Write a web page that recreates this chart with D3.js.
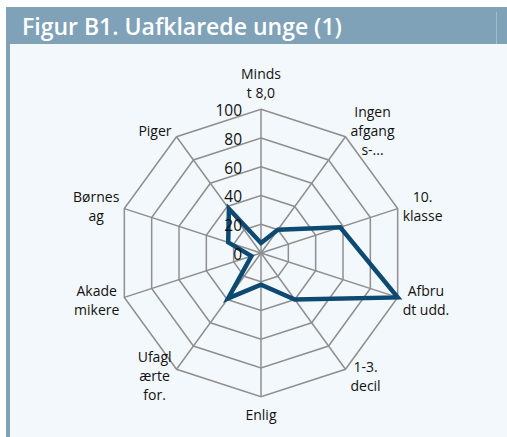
<!DOCTYPE html>
<html>
<head>
<meta charset="utf-8">
<script src="https://cdn.jsdelivr.net/npm/d3@7"></script>
<style>
  html, body { margin: 0; padding: 0; background: #ffffff; }
  svg { display: block; }
  text { font-family: "Open Sans", "Noto Sans", sans-serif; }
</style>
</head>
<body>
<svg id="chart" width="507" height="437"></svg>
<script>
// Categories (clockwise from the top) and their wrapped label lines
const categories = ["Mindst 8,0", "Ingen afgangs-...", "10. klasse", "Afbrudt udd.", "1-3. decil",
                    "Enlig", "Ufaglærte for.", "Akademikere", "Børnesag", "Piger"];
const labelLines = [["Minds", "t 8,0"], ["Ingen", "afgang", "s-..."], ["10.", "klasse"], ["Afbru", "dt udd."],
                    ["1-3.", "decil"], ["Enlig"], ["Ufagl", "ærte", "for."], ["Akade", "mikere"],
                    ["Børnes", "ag"], ["Piger"]];
const values = [7, 20, 58, 100, 40, 22, 39, 7, 24, 38];
const tickValues = [0, 20, 40, 60, 80, 100];
const titleText = "Figur B1. Uafklarede unge (1)";

const svg = d3.select("#chart");
const W = 507, H = 437;

// Frame: light panel, title bar and left rule
svg.append("rect").attr("x", 10).attr("y", 44).attr("width", W - 10).attr("height", H - 44).attr("fill", "#f3f8fc");
svg.append("rect").attr("x", 6).attr("y", 7).attr("width", W - 6).attr("height", 37).attr("fill", "#7fa2b8");
svg.append("rect").attr("x", 6).attr("y", 44).attr("width", 4).attr("height", H - 44).attr("fill", "#7fa2b8");
svg.append("line").attr("x1", 496.5).attr("x2", 496.5).attr("y1", 12).attr("y2", 44)
  .attr("stroke", "#a3bccb").attr("stroke-width", 1);
svg.append("text").attr("x", 22).attr("y", 35).attr("fill", "#ffffff")
  .attr("font-size", 23).attr("font-weight", 600).text(titleText);

// Radar geometry
const cx = 261, cy = 253, R = 143.7;
const r = d3.scaleLinear().domain([0, 100]).range([0, R]);
const angle = d3.scalePoint().domain(categories).range([0, 2 * Math.PI * (categories.length - 1) / categories.length]);
const pt = (cat, v) => {
  const a = angle(cat);
  return [cx + r(v) * Math.sin(a), cy - r(v) * Math.cos(a)];
};

const g = svg.append("g");

// Decagon rings
const ring = d3.line().curve(d3.curveLinearClosed);
tickValues.filter(t => t > 0).forEach(t => {
  g.append("path").attr("d", ring(categories.map(c => pt(c, t))))
    .attr("fill", "none").attr("stroke", "#8f8f8f").attr("stroke-width", 1.5);
});
// Spokes
categories.forEach(c => {
  const [x, y] = pt(c, 100);
  g.append("line").attr("x1", cx).attr("y1", cy).attr("x2", x).attr("y2", y)
    .attr("stroke", "#8f8f8f").attr("stroke-width", 1.5);
});

// Data polygon
g.append("path").attr("d", ring(categories.map((c, i) => pt(c, values[i]))))
  .attr("fill", "none").attr("stroke", "#0d4a72").attr("stroke-width", 4.5)
  .attr("stroke-linejoin", "miter").attr("stroke-miterlimit", 10);

// Value axis labels along the top spoke
tickValues.forEach(t => {
  g.append("text").attr("x", cx - 19).attr("y", cy - r(t) + 1.5).attr("dy", "0.35em")
    .attr("text-anchor", "end").attr("font-size", 15.5).attr("fill", "#111111").text(t);
});

// Category labels
const lh = 19;
categories.forEach((c, i) => {
  const a = angle(c);
  const s = Math.sin(a), co = Math.cos(a);
  const [vx, vy] = pt(c, 100);
  const lines = labelLines[i];
  const n = lines.length;
  const t = g.append("text").attr("font-size", 14).attr("fill", "#111111").attr("text-anchor", "middle");
  const spans = lines.map(l => t.append("tspan").text(l));
  let xc, ys;
  if (Math.abs(s) < 0.01) {
    xc = vx;
    if (co > 0) {
      ys = lines.map((l, k) => vy - 7 - (n - 1 - k) * lh - lh / 2);
    } else {
      ys = lines.map((l, k) => vy + 9 + k * lh + lh / 2);
    }
  } else {
    const w = d3.max(spans, sp => sp.node().getComputedTextLength());
    xc = vx + Math.sign(s) * (5 + w / 2);
    const mid = vy - co * 8 + 0.5;
    ys = lines.map((l, k) => mid + (k - (n - 1) / 2) * lh);
  }
  spans.forEach((sp, k) => sp.attr("x", xc).attr("y", ys[k]).attr("dy", "0.35em"));
});
</script>
</body>
</html>
